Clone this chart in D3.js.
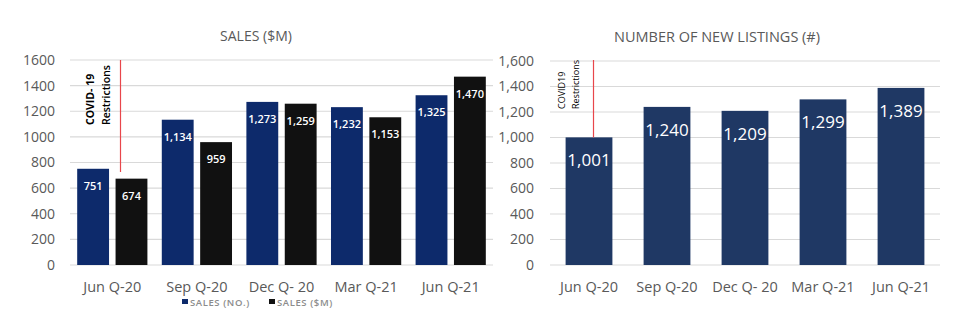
<!DOCTYPE html>
<html><head><meta charset="utf-8">
<script src="https://cdn.jsdelivr.net/npm/d3@7"></script>
<style>body{margin:0;background:#fff}svg{display:block;font-family:"Open Sans",sans-serif}</style>
</head><body>
<svg id="c" width="975" height="323"></svg>
<script>
const categories = ["Jun Q-20","Sep Q-20","Dec Q- 20","Mar Q-21","Jun Q-21"];
const salesNo = [751,1134,1273,1232,1325];
const salesM = [674,959,1259,1153,1470];
const newListings = [1001,1240,1209,1299,1389];
const yTicks = [0,200,400,600,800,1000,1200,1400,1600];
const seriesNames = ["SALES (NO.)","SALES ($M)"];
const colors = ["#0d2a6b","#111111"];
const rightColor = "#1f3864";

const svg = d3.select("#c");
const grey = "#595959";
const fmt = d3.format(",");

// ---------- Left chart ----------
{
  const g = svg.append("g");
  const x = d3.scaleBand().domain(categories).range([70,493]).paddingInner(0.17).paddingOuter(0.085);
  const x1 = d3.scaleBand().domain([0,1]).range([0,x.bandwidth()]).paddingInner(0.17);
  const y = d3.scaleLinear().domain([0,1600]).range([265,60]);
  g.selectAll("line.grid").data(yTicks).join("line")
    .attr("x1",70).attr("x2",493).attr("y1",d=>y(d)).attr("y2",d=>y(d))
    .attr("stroke","#d9d9d9").attr("stroke-width",1.2);
  g.selectAll("text.yt").data(yTicks).join("text")
    .attr("x",55).attr("y",d=>y(d)).attr("dy","0.35em").attr("text-anchor","end")
    .attr("fill",grey).attr("font-size",14).text(d=>d);
  const series = [salesNo, salesM];
  series.forEach((vals,si)=>{
    g.selectAll("rect.s"+si).data(vals).join("rect")
      .attr("x",(d,i)=>x(categories[i])+x1(si)).attr("width",x1.bandwidth())
      .attr("y",d=>y(d)).attr("height",d=>y(0)-y(d)).attr("fill",colors[si]);
    g.selectAll("text.l"+si).data(vals).join("text")
      .attr("x",(d,i)=>x(categories[i])+x1(si)+x1.bandwidth()/2)
      .attr("y",d=>y(d)+21).attr("text-anchor","middle")
      .attr("fill","#fff").attr("font-size",11).attr("font-weight",600).text(d=>fmt(d));
  });
  g.selectAll("text.xt").data(categories).join("text")
    .attr("x",d=>x(d)+x.bandwidth()/2).attr("y",292).attr("text-anchor","middle")
    .attr("fill",grey).attr("font-size",14.5).text(d=>d);
  g.append("text").attr("x",256).attr("y",41).attr("text-anchor","middle")
    .attr("fill",grey).attr("font-size",14).text("SALES ($M)");
  // legend
  const lg = g.append("g").attr("font-size",9.5).attr("font-weight",600).attr("fill","#8c8c8c").attr("letter-spacing",0.6);
  [[182,0],[269,1]].forEach(([lx,si])=>{
    lg.append("rect").attr("x",lx).attr("y",299).attr("width",6).attr("height",5).attr("fill",colors[si]);
    lg.append("text").attr("x",lx+8).attr("y",305.5).text(seriesNames[si]);
  });
  // COVID annotation
  g.append("line").attr("x1",120.5).attr("x2",120.5).attr("y1",60).attr("y2",172).attr("stroke","#e8464b").attr("stroke-width",1.2);
  g.append("text").attr("transform","translate(94,125) rotate(-90)").attr("font-size",10.5).attr("font-weight",700).attr("fill","#000").text("COVID- 19");
  g.append("text").attr("transform","translate(110,125) rotate(-90)").attr("font-size",10.5).attr("font-weight",600).attr("fill","#000").text("Restrictions");
}

// ---------- Right chart ----------
{
  const g = svg.append("g");
  const x = d3.scaleBand().domain(categories).range([550,940]).paddingInner(0.4).paddingOuter(0.2);
  const y = d3.scaleLinear().domain([0,1600]).range([265,61]);
  g.selectAll("line.grid").data(yTicks).join("line")
    .attr("x1",550).attr("x2",940).attr("y1",d=>y(d)).attr("y2",d=>y(d))
    .attr("stroke","#d9d9d9").attr("stroke-width",1.2);
  g.selectAll("text.yt").data(yTicks).join("text")
    .attr("x",534).attr("y",d=>y(d)).attr("dy","0.35em").attr("text-anchor","end")
    .attr("fill",grey).attr("font-size",14).text(d=>fmt(d));
  g.selectAll("rect.b").data(newListings).join("rect")
    .attr("x",(d,i)=>x(categories[i])).attr("width",x.bandwidth())
    .attr("y",d=>y(d)).attr("height",d=>y(0)-y(d)).attr("fill",rightColor);
  g.selectAll("text.l").data(newListings).join("text")
    .attr("x",(d,i)=>x(categories[i])+x.bandwidth()/2).attr("y",d=>y(d)+29)
    .attr("text-anchor","middle").attr("fill","#fff").attr("font-size",17).text(d=>fmt(d));
  g.selectAll("text.xt").data(categories).join("text")
    .attr("x",d=>x(d)+x.bandwidth()/2).attr("y",292).attr("text-anchor","middle")
    .attr("fill",grey).attr("font-size",14.5).text(d=>d);
  g.append("text").attr("x",717).attr("y",42).attr("text-anchor","middle")
    .attr("fill",grey).attr("font-size",14.5).text("NUMBER OF NEW LISTINGS (#)");
  g.append("line").attr("x1",593.5).attr("x2",593.5).attr("y1",60).attr("y2",y(newListings[0])).attr("stroke","#e8464b").attr("stroke-width",1.2);
  g.append("text").attr("transform","translate(565,109) rotate(-90)").attr("font-size",9).attr("fill","#000").text("COVID19");
  g.append("text").attr("transform","translate(579,109) rotate(-90)").attr("font-size",9).attr("fill","#000").text("Restrictions");
}
</script>
</body></html>
